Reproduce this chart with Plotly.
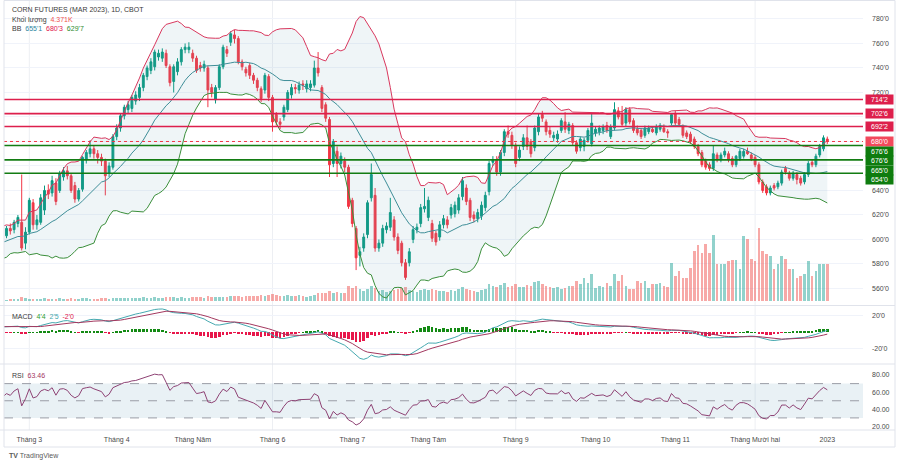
import numpy as np
import pandas as pd
import plotly.graph_objects as go

# ---------------- data ----------------
holidays = ["2022-02-21", "2022-04-15", "2022-05-30", "2022-06-20", "2022-07-04",
            "2022-09-05", "2022-11-24", "2022-12-26"]
dates = [d for d in pd.bdate_range("2022-02-18", "2022-12-29")
         if d.strftime("%Y-%m-%d") not in holidays]

# closes before the visible window (used only to warm up the indicators)
warmup_close = [565, 560, 563, 568, 566, 572, 575, 571, 578, 582, 579, 585, 588, 584, 590,
                587, 583, 589, 593, 591, 596, 594, 598, 601, 597, 593, 599, 604, 600, 606,
                603, 608, 605, 601, 604]

opens = [603, 609, 608, 613, 614, 597, 606, 630, 612, 614, 624, 640, 638, 646, 640, 651, 656, 652, 644, 633,
         641, 665, 670, 674, 670, 667, 664, 654, 659, 684, 691, 701, 706, 707, 713, 716, 724, 733, 738, 741,
         749, 748, 752, 741, 729, 737, 745, 755, 755, 752, 748, 742, 740, 740, 724, 714, 724, 741, 755, 761,
         767, 764, 745, 739, 742, 734, 730, 723, 722, 733, 716, 702, 696, 700, 706, 718, 724, 722, 727, 723,
         724, 726, 740, 724, 710, 698, 662, 672, 662, 664, 659, 632, 609, 587, 593, 604, 634, 636, 593, 597,
         608, 610, 616, 602, 597, 581, 581, 600, 608, 613, 625, 618, 613, 605, 602, 612, 616, 620, 621, 624,
         635, 642, 632, 620, 617, 619, 626, 639, 663, 665, 655, 671, 688, 685, 677, 667, 676, 683, 680, 675,
         688, 702, 696, 689, 683, 682, 689, 696, 689, 693, 679, 675, 676, 681, 678, 687, 688, 689, 693, 684,
         691, 705, 702, 695, 706, 697, 690, 689, 685, 688, 690, 687, 690, 691, 688, 695, 703, 698, 692, 687,
         686, 682, 676, 671, 664, 661, 658, 669, 665, 669, 670, 666, 661, 666, 668, 672, 669, 667, 661, 647,
         643, 638, 644, 643, 646, 658, 654, 650, 653, 650, 647, 653, 663, 661, 669, 674, 682]
highs = [611, 613, 616, 620, 653, 610, 634, 633, 620, 637, 644, 645, 652, 650, 656, 659, 660, 654, 647, 642,
         668, 673, 681, 677, 673, 670, 666, 663, 686, 694, 703, 710, 713, 718, 721, 727, 736, 742, 748, 755,
         755, 756, 755, 743, 743, 748, 757, 760, 761, 755, 750, 745, 746, 742, 727, 726, 743, 759, 758, 770,
         771, 766, 747, 741, 744, 736, 732, 725, 736, 735, 718, 704, 699, 710, 722, 727, 727, 729, 730, 730,
         730, 746, 753, 726, 712, 700, 682, 676, 671, 667, 661, 634, 611, 594, 605, 632, 662, 642, 600, 612,
         614, 634, 619, 605, 599, 584, 593, 611, 613, 629, 642, 635, 616, 607, 615, 620, 619, 629, 631, 637,
         651, 645, 634, 623, 625, 631, 639, 664, 668, 668, 673, 690, 693, 688, 679, 676, 686, 693, 682, 693,
         703, 705, 698, 692, 688, 689, 699, 704, 696, 695, 681, 684, 683, 691, 703, 692, 693, 694, 696, 694,
         712, 708, 709, 708, 708, 699, 693, 691, 693, 693, 692, 694, 695, 694, 690, 703, 705, 700, 694, 689,
         688, 684, 678, 673, 666, 663, 677, 671, 671, 675, 672, 668, 669, 674, 674, 675, 671, 669, 663, 649,
         645, 644, 646, 648, 657, 660, 656, 656, 655, 652, 655, 664, 665, 670, 678, 685, 684]
lows = [601, 604, 605, 610, 591, 592, 604, 608, 608, 612, 620, 633, 635, 628, 638, 648, 649, 638, 630, 631,
        639, 662, 667, 666, 662, 660, 636, 651, 657, 681, 688, 698, 703, 704, 710, 713, 721, 730, 735, 738,
        746, 745, 740, 725, 720, 734, 742, 752, 752, 745, 736, 737, 737, 708, 716, 711, 722, 739, 749, 758,
        760, 743, 738, 733, 731, 727, 721, 712, 719, 713, 688, 693, 690, 697, 704, 715, 719, 719, 722, 720,
        721, 724, 733, 704, 696, 651, 659, 651, 658, 655, 625, 610, 575, 578, 590, 601, 631, 590, 590, 594,
        605, 607, 599, 588, 578, 567, 578, 597, 605, 610, 622, 615, 598, 595, 599, 609, 609, 617, 618, 621,
        632, 628, 615, 614, 614, 616, 623, 636, 660, 652, 652, 668, 683, 674, 659, 664, 673, 673, 667, 672,
        685, 696, 685, 683, 680, 679, 687, 687, 686, 677, 670, 672, 672, 679, 676, 684, 685, 686, 687, 682,
        689, 698, 692, 692, 694, 687, 685, 682, 683, 686, 687, 685, 688, 687, 683, 693, 693, 692, 683, 682,
        678, 674, 668, 659, 657, 656, 656, 663, 663, 667, 663, 659, 659, 664, 666, 669, 664, 659, 645, 638,
        636, 636, 640, 641, 644, 653, 648, 648, 645, 644, 645, 651, 659, 659, 667, 672, 678]
closes = [609, 607, 614, 618, 593, 606, 632, 612, 616, 634, 640, 637, 648, 631, 654, 656, 652, 640, 633, 640,
          667, 671, 674, 670, 667, 664, 652, 660, 684, 691, 701, 708, 710, 716, 718, 724, 734, 740, 745, 753,
          752, 753, 742, 728, 741, 745, 755, 757, 757, 748, 738, 740, 743, 722, 720, 724, 741, 757, 752, 768,
          764, 745, 741, 736, 734, 730, 724, 715, 734, 716, 696, 696, 694, 708, 720, 724, 723, 726, 726, 727,
          727, 740, 736, 707, 699, 661, 680, 662, 668, 659, 627, 613, 585, 590, 602, 630, 653, 593, 597, 609,
          611, 622, 602, 591, 581, 569, 590, 608, 610, 626, 627, 632, 601, 598, 612, 617, 612, 626, 628, 634,
          648, 631, 618, 617, 622, 628, 636, 662, 665, 655, 671, 688, 686, 677, 662, 673, 683, 676, 670, 691,
          700, 699, 688, 686, 685, 686, 697, 690, 694, 679, 672, 682, 681, 689, 695, 690, 691, 692, 689, 692,
          706, 700, 694, 706, 696, 689, 687, 684, 691, 691, 688, 692, 693, 688, 687, 702, 695, 694, 685, 684,
          680, 676, 670, 661, 659, 658, 670, 665, 669, 672, 665, 661, 668, 672, 672, 670, 666, 661, 647, 640,
          638, 642, 642, 646, 655, 655, 650, 654, 649, 646, 653, 662, 661, 668, 676, 683, 680]
volume_k = [0.15, 0.2, 0.18, 0.25, 0.45, 0.3, 0.28, 0.22, 0.2, 0.25, 0.3, 0.22, 0.26, 0.28, 0.3, 0.24, 0.2, 0.3,
            0.28, 0.25, 0.32, 0.3, 0.27, 0.22, 0.25, 0.3, 0.35, 0.28, 0.33, 0.3,
            0.32, 0.35, 0.3, 0.36, 0.33, 0.38, 0.42, 0.4, 0.37, 0.45, 0.4, 0.38, 0.44, 0.5, 0.42, 0.4, 0.45, 0.38,
            0.4, 0.46, 0.5, 0.44, 0.41, 0.55, 0.48, 0.46, 0.5, 0.52, 0.47, 0.6,
            0.55, 0.62, 0.5, 0.58, 0.6, 0.55, 0.65, 0.7, 0.6, 0.72, 0.8, 0.66, 0.6, 0.62, 0.7, 0.65, 0.6, 0.68,
            0.55, 0.5, 0.6, 0.75, 0.9, 1.0, 0.95, 1.2, 1.0, 1.05, 0.9, 1.0,
            1.8, 1.55, 1.75, 1.4, 1.2, 1.4, 1.75, 1.55, 1.2, 1.3,
            1.1, 1.2, 1.3, 1.4, 1.5, 1.6, 1.3, 1.2, 1.1, 1.25, 1.4, 1.3, 1.45, 1.3, 1.2, 1.15, 1.1, 1.3, 1.2, 1.4,
            1.6, 1.4, 1.35, 1.2, 1.1, 1.3, 1.45, 2.0,
            1.8, 1.6, 1.9, 2.1, 1.7, 1.8, 2.0, 1.6, 1.7, 1.9, 1.8, 2.2, 2.4, 2.0, 1.8, 1.6, 1.5, 1.6,
            1.42, 1.53, 1.77, 1.77, 2.36, 2.01, 2.71, 2.12, 3.19, 1.53, 1.77, 1.65, 2.12, 1.77, 3.19, 2.36, 3.07,
            1.77, 1.42, 1.42, 2.36, 2.12, 2.36, 1.53, 2.01, 2.01, 2.12, 1.77, 1.65, 4.48, 2.95, 3.54, 2.71, 2.71,
            3.89, 5.90, 6.61, 5.66, 6.73, 5.66, 7.79, 4.37, 4.37, 4.37, 4.72, 4.84, 4.84, 3.78, 7.67, 7.32, 4.96,
            4.72, 8.61, 5.90, 5.55, 5.31, 3.78, 4.37, 5.31, 4.96, 3.78, 3.78, 2.71, 2.95, 3.19, 4.72, 2.95, 3.54,
            4.37, 4.37, 4.371]

month_labels = ["Tháng 3", "Tháng 4", "Tháng Năm", "Tháng 6", "Tháng 7", "Tháng Tám", "Tháng 9",
                "Tháng 10", "Tháng 11", "Tháng Mười hai", "2023"]
price_ticks = [560, 580, 600, 620, 640, 660, 680, 700, 720, 740, 760, 780]
# 660/680/700 sit under the level tags on the price scale, as in the original
price_ticktext = ["560'0", "580'0", "600'0", "620'0", "640'0", "", "", "",
                  "720'0", "740'0", "760'0", "780'0"]
macd_ticks = [20, -20]
macd_ticktext = ["20'0", "-20'0"]
rsi_ticks = [20, 40, 60, 80]
rsi_ticktext = ["20.00", "40.00", "60.00", "80.00"]

# horizontal levels drawn on the chart (and their price-scale tags)
level_values = [714.25, 702.75, 692.25, 680.0, 676.75, 676.75, 665.0, 654.0]
level_text = ["714'2", "702'6", "692'2", "680'0", "676'6", "676'6", "665'0", "654'0"]
level_kind = ["red", "red", "red", "last", "green", "green", "green", "green"]

legend_title = "CORN FUTURES (MAR 2023), 1D, CBOT"
legend_vol = "4.371K"
legend_bb = ["655'1", "680'3", "629'7"]
legend_macd = ["4'4", "2'5", "-2'0"]
legend_rsi = "63.46"

# ---------------- indicators ----------------
n = len(closes)
nw = len(warmup_close)
c_all = pd.Series(warmup_close + closes, dtype=float)
xi_all = np.arange(-nw, n)
basis = c_all.rolling(20).mean()
sd = c_all.rolling(20).std(ddof=0)
bb_up = basis + 2 * sd
bb_lo = basis - 2 * sd
ema12 = c_all.ewm(span=12, adjust=False).mean()
ema26 = c_all.ewm(span=26, adjust=False).mean()
macd = ema12 - ema26
signal = macd.ewm(span=9, adjust=False).mean()
hist = macd - signal
delta = c_all.diff()
gain = delta.clip(lower=0).ewm(alpha=1 / 14, adjust=False).mean()
loss = (-delta.clip(upper=0)).ewm(alpha=1 / 14, adjust=False).mean()
rsi = 100 - 100 / (1 + gain / loss)

sel = xi_all >= -1
xs = xi_all[sel]

x = list(range(n))

# ---------------- styling ----------------
UP = "#089981"
DN = "#F23645"
FONT = "Liberation Sans, Arial, sans-serif"
AXC = "#4a4a4a"
GRID = "#F0F3FA"
LINE_RED = "#DD1F4C"
LINE_GREEN = "#137C13"
TAG_GREEN = "#0E7C0E"
TAG_LAST = "#F2495C"

W, H = 906, 469
ML, MR, MT, MB = 4, 43, 0, 39
PW = W - ML - MR
PH = H - MT - MB


def px_x(px):
    return (px - ML) / PW


def px_y(py):
    return (PH - (py - MT)) / PH


fig = go.Figure()

# volume (base axis of the price pane)
vol_colors = ["rgba(38,166,154,0.5)" if c >= o else "rgba(239,83,80,0.5)" for o, c in zip(opens, closes)]
fig.add_trace(go.Bar(x=x, y=volume_k, marker=dict(color=vol_colors, line=dict(width=0)),
                     width=0.72, xaxis="x", yaxis="y"))

# Bollinger Bands
fig.add_trace(go.Scatter(x=xs, y=bb_up[sel], mode="lines", line=dict(color="#D9385E", width=1),
                         xaxis="x", yaxis="y2"))
fig.add_trace(go.Scatter(x=xs, y=bb_lo[sel], mode="lines", line=dict(color="#3B8F3B", width=1),
                         fill="tonexty", fillcolor="rgba(110,165,185,0.11)", xaxis="x", yaxis="y2"))
fig.add_trace(go.Scatter(x=xs, y=basis[sel], mode="lines", line=dict(color="#3E8E98", width=1),
                         xaxis="x", yaxis="y2"))

# candles
fig.add_trace(go.Candlestick(x=x, open=opens, high=highs, low=lows, close=closes,
                             increasing=dict(line=dict(color=UP, width=1), fillcolor=UP),
                             decreasing=dict(line=dict(color=DN, width=1), fillcolor=DN),
                             whiskerwidth=0, xaxis="x", yaxis="y2"))

# MACD
h_vals = hist[sel]
h_cols = ["#138A13" if v >= 0 else "#E8174B" for v in h_vals]
fig.add_trace(go.Bar(x=xs, y=h_vals, marker=dict(color=h_cols, line=dict(width=0)), width=0.7,
                     xaxis="x2", yaxis="y3"))
fig.add_trace(go.Scatter(x=xs, y=macd[sel], mode="lines", line=dict(color="#46A9B0", width=1),
                         xaxis="x2", yaxis="y3"))
fig.add_trace(go.Scatter(x=xs, y=signal[sel], mode="lines", line=dict(color="#A3385F", width=1),
                         xaxis="x2", yaxis="y3"))

# RSI
fig.add_trace(go.Scatter(x=xs, y=rsi[sel], mode="lines", line=dict(color="#8E4274", width=1),
                         xaxis="x3", yaxis="y4"))

# ---------------- layout ----------------
dom_main = [px_y(305), 1]
dom_macd = [px_y(363), px_y(306)]
dom_rsi = [0, px_y(365)]

month_pos = []
for m in range(3, 13):
    month_pos.append(next(i for i, d in enumerate(dates) if d.month == m))
tick_pos = month_pos + [n - 1]

x_range = [(ML - 6.5) / 3.8, (W - MR - 6.5) / 3.8]

tickfont = dict(family=FONT, size=7, color=AXC)
fig.update_layout(
    width=W, height=H, margin=dict(l=ML, r=MR, t=MT, b=MB),
    paper_bgcolor="white", plot_bgcolor="white", showlegend=False, hovermode=False,
    bargap=0,
    xaxis=dict(domain=[0, 1], range=x_range, anchor="y", showticklabels=False, showgrid=False,
               zeroline=False, rangeslider=dict(visible=False), fixedrange=True),
    xaxis2=dict(domain=[0, 1], matches="x", anchor="y3", showticklabels=False, showgrid=False,
                zeroline=False),
    xaxis3=dict(domain=[0, 1], matches="x", anchor="y4", showgrid=False, zeroline=False,
                tickvals=tick_pos, ticktext=month_labels, tickfont=tickfont, ticks="",
                ticklabelstandoff=4),
    yaxis=dict(domain=dom_main, range=[-0.47, 35.5], visible=False, anchor="x"),
    yaxis2=dict(overlaying="y", side="right", anchor="x", range=[546.5, 795.5],
                tickvals=price_ticks, ticktext=price_ticktext, tickfont=tickfont,
                showgrid=True, gridcolor=GRID, gridwidth=1, zeroline=False, ticks="",
                ticklabelstandoff=8),
    yaxis3=dict(domain=dom_macd, side="right", anchor="x2", range=[-37, 32.1],
                tickvals=macd_ticks, ticktext=macd_ticktext, tickfont=tickfont,
                showgrid=True, gridcolor=GRID, zeroline=False, ticks="", ticklabelstandoff=8),
    yaxis4=dict(domain=dom_rsi, side="right", anchor="x3", range=[15.9, 91.7],
                tickvals=rsi_ticks, ticktext=rsi_ticktext, tickfont=tickfont,
                showgrid=False, zeroline=False, ticks="", ticklabelstandoff=8),
)

shapes = []
# vertical quarter grid lines
for m_idx in [month_pos[0], month_pos[3], month_pos[6], month_pos[9]]:
    shapes.append(dict(type="line", xref="x", yref="paper", x0=m_idx, x1=m_idx, y0=0, y1=1,
                       line=dict(color="#EDEFF3", width=1), layer="below"))
# RSI band and dashed levels
shapes.append(dict(type="rect", xref="paper", yref="y4", x0=0, x1=1, y0=30, y1=70,
                   fillcolor="rgba(120,170,190,0.16)", line=dict(width=0), layer="below"))
for lv in [70, 50, 30]:
    shapes.append(dict(type="line", xref="paper", yref="y4", x0=0, x1=1, y0=lv, y1=lv,
                       line=dict(color="#9A9DA6", width=1, dash="dash"), layer="below"))
# horizontal drawn levels
drawn = set()
for val, kind in zip(level_values, level_kind):
    if (val, kind) in drawn:
        continue
    drawn.add((val, kind))
    if kind == "red":
        ln = dict(color=LINE_RED, width=1.6)
    elif kind == "green":
        ln = dict(color=LINE_GREEN, width=1.6)
    else:
        ln = dict(color=DN, width=1, dash="dot")
    shapes.append(dict(type="line", xref="paper", yref="y2", x0=0, x1=1, y0=val, y1=val,
                       line=ln, layer="above"))
# pane separators and frame
for py in [305.5, 364, 430]:
    shapes.append(dict(type="line", xref="paper", yref="paper", x0=px_x(0), x1=px_x(895),
                       y0=px_y(py), y1=px_y(py), line=dict(color="#E0E3EB", width=1)))
shapes.append(dict(type="rect", xref="paper", yref="paper", x0=px_x(4), x1=px_x(895),
                   y0=px_y(447), y1=px_y(0.5), line=dict(color="#E0E3EB", width=1)))
fig.update_layout(shapes=shapes)

ann = []
# price scale tags (stacked to avoid overlap)
tag_h_price = 9.6 / (305 / (795.5 - 546.5))
prev = None
for val, txt, kind in zip(level_values, level_text, level_kind):
    pos = val if prev is None else min(val, prev - tag_h_price)
    prev = pos
    col = LINE_RED if kind == "red" else (TAG_GREEN if kind == "green" else TAG_LAST)
    ann.append(dict(xref="paper", yref="y2", x=px_x(879.5), y=pos, text=txt, showarrow=False,
                    font=dict(family=FONT, size=7, color="white"), bgcolor=col,
                    width=27, height=9, borderpad=0, xanchor="center", yanchor="middle"))

lf = dict(family=FONT, size=7, color="#3a3a3a")
ann.append(dict(xref="paper", yref="paper", x=px_x(10), y=px_y(10), text=legend_title,
                showarrow=False, font=lf, xanchor="left", yanchor="middle"))
ann.append(dict(xref="paper", yref="paper", x=px_x(10), y=px_y(20),
                text="Khối lượng  <span style='color:#EF5350'>%s</span>" % legend_vol,
                showarrow=False, font=lf, xanchor="left", yanchor="middle"))
ann.append(dict(xref="paper", yref="paper", x=px_x(10), y=px_y(29),
                text="BB  <span style='color:#2E86A0'>%s</span>  <span style='color:#E0144C'>%s</span>"
                     "  <span style='color:#2E8B2E'>%s</span>" % tuple(legend_bb),
                showarrow=False, font=lf, xanchor="left", yanchor="middle"))
ann.append(dict(xref="paper", yref="paper", x=px_x(10), y=px_y(316),
                text="MACD  <span style='color:#2E9E2E'>%s</span>  <span style='color:#3FA7AD'>%s</span>"
                     "  <span style='color:#E0144C'>%s</span>" % tuple(legend_macd),
                showarrow=False, font=lf, xanchor="left", yanchor="middle"))
ann.append(dict(xref="paper", yref="paper", x=px_x(10), y=px_y(375),
                text="RSI  <span style='color:#A3385F'>%s</span>" % legend_rsi,
                showarrow=False, font=lf, xanchor="left", yanchor="middle"))
ann.append(dict(xref="paper", yref="paper", x=px_x(7), y=px_y(456),
                text="<b>TV</b> TradingView", showarrow=False,
                font=dict(family=FONT, size=7, color="#5a5a5a"), xanchor="left", yanchor="middle"))
fig.update_layout(annotations=ann)

fig.write_html("out.html")
